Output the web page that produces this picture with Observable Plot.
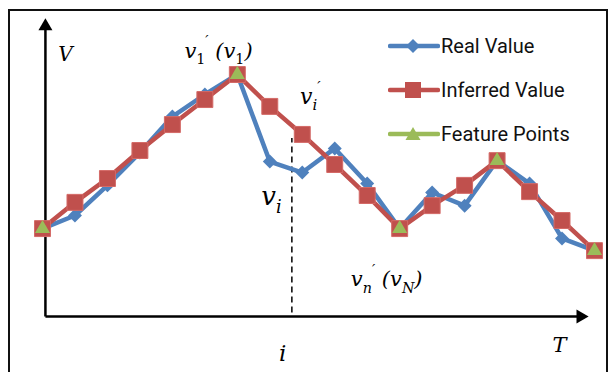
<!DOCTYPE html>
<html><head><meta charset="utf-8">
<script src="https://cdn.jsdelivr.net/npm/d3@7"></script>
<script src="https://cdn.jsdelivr.net/npm/@observablehq/plot@0.6"></script>
<style>
body{margin:0;background:#fff;width:610px;height:372px;overflow:hidden;position:relative;font-family:Roboto,sans-serif}
#frame{position:absolute;left:8px;top:9px;width:596px;height:400px;border:2px solid #111;border-bottom:none}
#chart{position:absolute;left:0;top:0}
#legend{position:absolute;left:388px;top:24px}
.row{display:flex;align-items:center;height:44px;font-size:20px;color:#111}
.row svg{margin-right:1px}
</style></head><body>
<div id="frame"></div>
<div id="chart"></div>
<div id="legend"></div>
<script>
// ---- data ----
const steps = d3.range(18);
const realValue     = [29.5, 33.9, 44.0, 55.0, 67.1, 74.5, 81.2, 52.0, 48.3, 56.4, 44.6, 29.5, 41.6, 37.2, 52.3, 44.6, 26.2, 22.1];
const inferredValue = [29.5, 38.3, 46.3, 55.7, 64.4, 72.8, 81.2, 70.5, 61.1, 51.0, 40.6, 29.5, 37.2, 44.0, 52.3, 41.9, 32.2, 22.1];
const featureIdx = [0, 6, 11, 14, 17];
const seriesNames = ["Real Value", "Inferred Value", "Feature Points"];
const seriesColors = ["#4F81BD", "#C0504D", "#9BBB59"];
const axisLines = [{x1: 0.09, y1: 0, x2: 0.09, y2: 97}, {x1: 0.09, y1: 0, x2: 16.6, y2: 0}];
const axisHeads = [{x: 0.09, y: 97.4, rotate: 0}, {x: 16.57, y: 0, rotate: 90}];
const guideLine = [{x: 7.68, y1: 1.2, y2: 59.7}];
const mathLabels = [
  {x: 0.71, y: 88.0, text: "V", size: 20},
  {x: 5.42, y: 89.0, text: "v_1^′ (v_1)", size: 21},
  {x: 8.25, y: 73.8, text: "v_i^′", size: 22},
  {x: 7.05, y: 40.3, text: "v_i", size: 26},
  {x: 10.6, y: 12.4, text: "v_n^′ (v_N)", size: 21},
  {x: 7.40, y: -12.4, text: "i", size: 23},
  {x: 15.92, y: -9.8, text: "T", size: 21}
];

const rows = steps.map(i => ({t: i, real: realValue[i], inferred: inferredValue[i]}));
const feats = featureIdx.map(i => ({t: i, v: inferredValue[i]}));

const plot = Plot.plot({
  width: 610, height: 372,
  marginLeft: 42, marginRight: 16, marginTop: 18, marginBottom: 56,
  x: {domain: [0, 17], axis: null},
  y: {domain: [0, 100], axis: null},
  marks: [
    Plot.link(axisLines, {x1: "x1", y1: "y1", x2: "x2", y2: "y2", stroke: "#000", strokeWidth: 2.5}),
    Plot.dot(axisHeads, {x: "x", y: "y", rotate: "rotate", symbol: "triangle", r: 5.2, fill: "#000", stroke: "none"}),
    Plot.ruleX(guideLine, {x: "x", y1: "y1", y2: "y2", stroke: "#000", strokeWidth: 1.5, strokeDasharray: "6,4"}),
    Plot.line(rows, {x: "t", y: "real", stroke: seriesColors[0], strokeWidth: 4.5}),
    Plot.dot(rows, {x: "t", y: "real", symbol: "diamond2", r: 6.3, fill: seriesColors[0], stroke: "none"}),
    Plot.line(rows, {x: "t", y: "inferred", stroke: seriesColors[1], strokeWidth: 4.5}),
    Plot.dot(rows, {x: "t", y: "inferred", symbol: "square", r: 9, fill: seriesColors[1], stroke: "#d46a67", strokeWidth: 1}),
    Plot.dot(feats, {x: "t", y: "v", symbol: "triangle", r: 5.6, fill: seriesColors[2], stroke: "none"}),
    Plot.text(mathLabels, {x: "x", y: "y", text: "text", fontSize: "size", fontStyle: "italic",
      fontFamily: "DejaVu Serif, Liberation Serif, serif", fill: "#000"})
  ]
});

// turn _x / ^x markup into real sub/superscript tspans (no empty tspans)
const NS = "http://www.w3.org/2000/svg";
const levelOffset = {0: 0, "-1": 0.3, 1: -0.55};
plot.querySelectorAll("text").forEach(el => {
  const s = el.textContent;
  if (!/[_^]/.test(s)) return;
  const segs = [];
  let i = 0;
  while (i < s.length) {
    const c = s[i];
    if ((c === "_" || c === "^") && i + 1 < s.length) {
      segs.push({text: s[i + 1], level: c === "_" ? -1 : 1});
      i += 2;
    } else {
      let t = "";
      while (i < s.length && s[i] !== "_" && s[i] !== "^") { t += s[i]; i++; }
      segs.push({text: t, level: 0});
    }
  }
  el.textContent = "";
  el.style.whiteSpace = "pre";
  let prev = 0;
  segs.forEach(seg => {
    const t = document.createElementNS(NS, "tspan");
    const small = seg.level !== 0;
    const fs = small ? 0.68 : 1;
    if (small) t.setAttribute("font-size", "68%");
    if (/^[0-9]$/.test(seg.text)) t.setAttribute("font-style", "normal");
    const target = levelOffset[seg.level];
    const dyBase = target - prev;
    if (dyBase) t.setAttribute("dy", (dyBase / fs).toFixed(3) + "em");
    prev = target;
    t.textContent = seg.text;
    el.appendChild(t);
  });
});
document.getElementById("chart").appendChild(plot);

// legend
const shapes = [
  '<path d="M25,3 L32,10 L25,17 L18,10 Z"/>',
  '<rect x="17" y="2" width="16" height="16"/>',
  '<path d="M25,3 L32.5,16 L17.5,16 Z"/>'
];
const leg = document.getElementById("legend");
seriesNames.forEach((name, k) => {
  const row = document.createElement("div");
  row.className = "row";
  row.innerHTML = `<svg width="52" height="20"><line x1="2" x2="50" y1="10" y2="10" stroke="${seriesColors[k]}" stroke-width="4.5" stroke-linecap="round"/><g fill="${seriesColors[k]}">${shapes[k]}</g></svg><span>${name}</span>`;
  leg.appendChild(row);
});
</script>
</body></html>
